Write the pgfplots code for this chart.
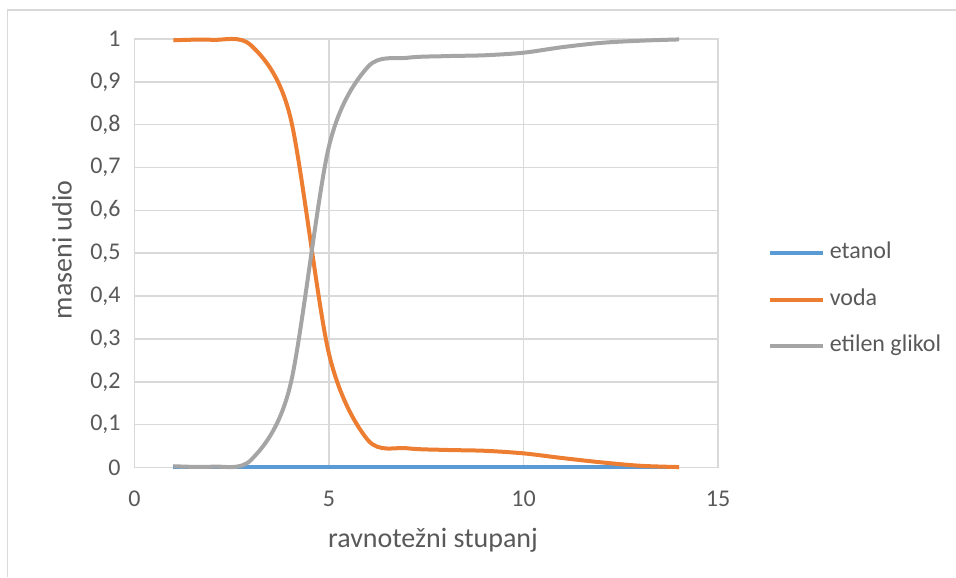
\documentclass[border=0pt]{standalone}
\usepackage{pgfplots}
\pgfplotsset{compat=1.18}
\usepackage{fontspec}
\setmainfont{Carlito}

\definecolor{cEtanol}{HTML}{5B9BD5}
\definecolor{cVoda}{HTML}{ED7D31}
\definecolor{cGlikol}{HTML}{A5A5A5}
\definecolor{cGrid}{HTML}{D9D9D9}
\definecolor{cText}{HTML}{595959}

\begin{document}
\begin{tikzpicture}
% page frame (chart area border)
\useasboundingbox (0,0) rectangle (478pt,288.5pt);
\draw[cGrid, line width=0.8pt] (3.75pt,0) -- (3.75pt,283.5pt) -- (478pt,283.5pt);

\begin{axis}[
  at={(67.25pt,54.75pt)}, anchor=south west,
  scale only axis, width=291.75pt, height=214.25pt,
  xmin=0, xmax=15, ymin=0, ymax=1,
  xtick={0,5,10,15},
  ytick={0,0.1,...,1.01},
  major tick length=0pt,
  axis line style={cGrid, line width=0.8pt},
  xmajorgrids, ymajorgrids,
  grid style={cGrid, line width=0.8pt},
  /pgf/number format/.cd, use comma, assume math mode=true, /pgfplots/.cd,
  ticklabel style={font=\fontsize{12}{14}\selectfont, text=cText},
  xticklabel style={inner sep=0pt, anchor=north, yshift=-11.4pt},
  yticklabel style={inner sep=0pt, anchor=east, xshift=-6.75pt},
  clip=false,
  legend style={at={(axis description cs:1,0.392)}, anchor=west, xshift=24.9pt,
    draw=none, fill=none, inner sep=0pt, row sep=12.2pt,
    font=\fontsize{12}{14}\selectfont, text=cText,
    nodes={inner sep=0pt, text height=8.4pt, text depth=2.6pt}},
  legend cell align=left,
  legend image code/.code={\draw[#1, line width=2pt] (0pt,0pt) -- (26.5pt,0pt);},
  /tikz/every odd column/.append style={column sep=2.3pt},
]
\addplot[cEtanol, line width=2pt, smooth] coordinates {
 (1,0) (2,0) (3,0) (4,0) (5,0) (6,0) (7,0) (8,0) (9,0) (10,0) (11,0) (12,0) (13,0) (14,0)};
\addlegendentry{etanol}
\addplot[cVoda, line width=2pt, smooth] coordinates {
 (1,0.997) (2,0.998) (3,0.985) (4,0.82) (5,0.265) (6,0.064) (7,0.045) (8,0.041)
 (9,0.039) (10,0.033) (11,0.022) (12,0.012) (13,0.004) (14,0.001)};
\addlegendentry{voda}
\addplot[cGlikol, line width=2pt, smooth] coordinates {
 (1,0.003) (2,0.002) (3,0.018) (4,0.19) (5,0.75) (6,0.935) (7,0.956) (8,0.96)
 (9,0.962) (10,0.968) (11,0.981) (12,0.991) (13,0.996) (14,0.999)};
\addlegendentry{etilen glikol}
\end{axis}

\node[text=cText, font=\fontsize{14}{16}\selectfont] at (216.5pt,18.5pt) {ravnotežni stupanj};
\node[text=cText, font=\fontsize{14}{16}\selectfont, rotate=90] at (31pt,163.5pt) {maseni udio};
\end{tikzpicture}
\end{document}
